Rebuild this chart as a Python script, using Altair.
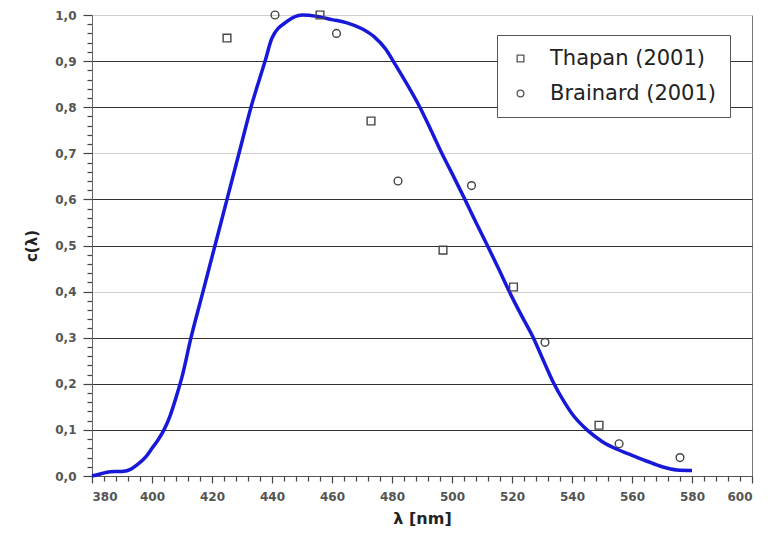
import altair as alt
import pandas as pd

# ---- data ----
curve_x = [380, 383, 386, 390, 393, 395, 398, 400, 402, 404,
           406, 408, 410, 413, 417, 421, 425, 429, 433, 437.7,
           440, 445, 450, 455, 460, 465, 470, 474, 478, 480.4,
           485, 489.3, 493, 496.6, 500.5, 504.3, 508, 511.8, 515.5, 519.1,
           523, 527.1, 530.5, 534, 537, 540, 545, 550, 555, 560,
           565, 570, 575, 580]
curve_y = [0.0, 0.005, 0.009, 0.01, 0.015, 0.024, 0.042, 0.06, 0.078, 0.10,
           0.13, 0.17, 0.215, 0.30, 0.40, 0.50, 0.60, 0.70, 0.80, 0.90,
           0.95, 0.986, 1.0, 0.997, 0.99, 0.983, 0.97, 0.953, 0.925, 0.90,
           0.85, 0.80, 0.75, 0.70, 0.65, 0.60, 0.55, 0.50, 0.45, 0.40,
           0.35, 0.30, 0.25, 0.20, 0.165, 0.135, 0.10, 0.075, 0.058, 0.045,
           0.032, 0.02, 0.013, 0.012]

thapan_x = [425, 456, 473, 497, 520.5, 549]
thapan_y = [0.95, 1.0, 0.77, 0.49, 0.41, 0.11]

brainard_x = [441, 461.5, 482, 506.5, 531, 555.7, 576]
brainard_y = [1.0, 0.96, 0.64, 0.63, 0.29, 0.07, 0.04]

series_names = ["Thapan (2001)", "Brainard (2001)"]
x_ticks = list(range(380, 601, 4))
y_ticks = [round(i * 0.02, 2) for i in range(51)]

curve_df = pd.DataFrame({"x": curve_x, "y": curve_y})
points_df = pd.concat([
    pd.DataFrame({"x": thapan_x, "y": thapan_y, "series": series_names[0]}),
    pd.DataFrame({"x": brainard_x, "y": brainard_y, "series": series_names[1]}),
])

FONT = "DejaVu Sans"

x_axis = alt.Axis(
    values=x_ticks,
    tickCount=200,
    labelExpr="datum.value % 20 == 0 ? datum.label : ''",
    format="d",
    labelOverlap=False,
    tickSize={"condition": {"test": "datum.value % 20 == 0", "value": 7}, "value": 5},
    tickWidth=1.2,
    grid=True,
    gridColor="#777",
    gridOpacity={"condition": {"test": "datum.value == 600", "value": 1}, "value": 0},
    domainColor="#555",
    tickColor="#444",
    labelFont=FONT,
    labelFontSize=12,
    labelFontWeight="bold",
    labelColor="#555",
    labelPadding=8,
    title="λ [nm]",
    titleFont=FONT,
    titleFontSize=16,
    titleFontWeight="bold",
    titleColor="#222",
    titlePadding=8,
)

MAJOR_Y = "round(datum.value * 50) % 5 == 0"
LIGHT_Y = "round(datum.value * 50) == 20 || round(datum.value * 50) == 35 || round(datum.value * 50) == 50"

y_axis = alt.Axis(
    values=y_ticks,
    tickCount=200,
    labelExpr=f"{MAJOR_Y} ? replace(format(datum.value, '.1f'), '.', ',') : ''",
    labelOverlap=False,
    tickSize={"condition": {"test": MAJOR_Y, "value": 9}, "value": 5},
    tickWidth=1.2,
    grid=True,
    gridOpacity={"condition": {"test": MAJOR_Y, "value": 1}, "value": 0},
    gridColor={"condition": {"test": LIGHT_Y, "value": "#cfcfcf"}, "value": "#333"},
    domainColor="#666",
    tickColor="#444",
    labelFont=FONT,
    labelFontSize=12,
    labelFontWeight="bold",
    labelColor="#555",
    labelPadding=7,
    title="c(λ)",
    titleFont=FONT,
    titleFontSize=15,
    titleFontWeight="bold",
    titleColor="#222",
    titlePadding=15,
)

x_scale = alt.Scale(domain=[380, 600], nice=False, zero=False)
y_scale = alt.Scale(domain=[0, 1], nice=False)

curve = alt.Chart(curve_df).mark_line(
    color="#1818d8", strokeWidth=3.5, interpolate="monotone"
).encode(
    x=alt.X("x:Q", scale=x_scale, axis=x_axis),
    y=alt.Y("y:Q", scale=y_scale, axis=y_axis),
)

points = alt.Chart(points_df).mark_point(
    filled=False, color="#444", strokeWidth=1.4, size=60, opacity=1
).encode(
    x=alt.X("x:Q", scale=x_scale),
    y=alt.Y("y:Q", scale=y_scale),
    shape=alt.Shape(
        "series:N",
        scale=alt.Scale(domain=series_names, range=["square", "circle"]),
        legend=alt.Legend(
            title=None,
            orient="none",
            legendX=405,
            legendY=20,
            fillColor="white",
            strokeColor="#555",
            padding=13,
            rowPadding=13,
            labelFont=FONT,
            labelFontSize=21,
            labelLimit=400,
            labelColor="#222",
            labelOffset=19,
            symbolSize=45,
            symbolStrokeColor="#555",
            symbolStrokeWidth=1.3,
        ),
    ),
)

chart = alt.layer(curve, points).properties(
    width=660,
    height=461,
    autosize=alt.AutoSizeParams(type="none"),
    padding={"left": 84, "top": 7, "right": 11, "bottom": 52},
    background="white",
).configure_view(strokeWidth=0)

chart.save("out.html", embed_options={"renderer": "svg", "actions": False})
